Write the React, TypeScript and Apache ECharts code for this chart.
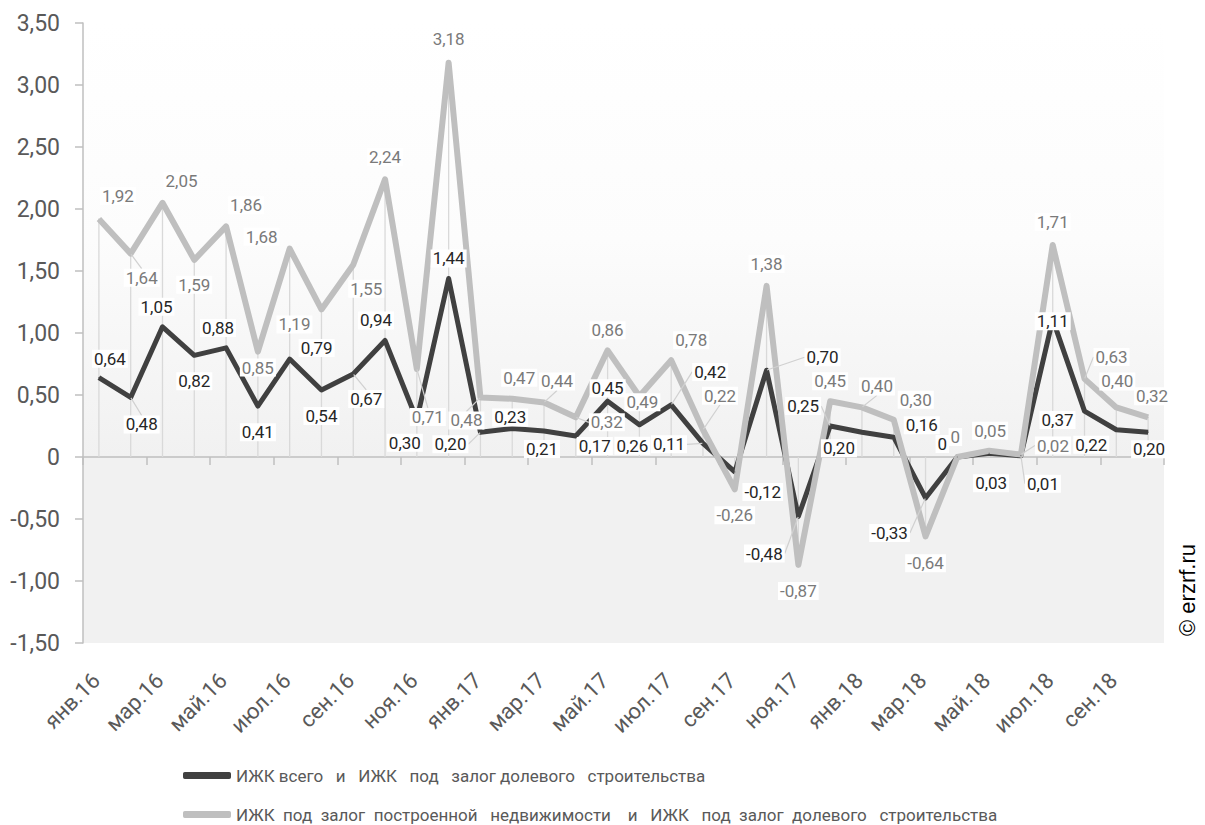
import React, { useEffect, useRef } from "react";
import * as echarts from "echarts";

const months = [
  "янв.16", "фев.16", "мар.16", "апр.16", "май.16", "июн.16", "июл.16", "авг.16", "сен.16", "окт.16", "ноя.16", "дек.16",
  "янв.17", "фев.17", "мар.17", "апр.17", "май.17", "июн.17", "июл.17", "авг.17", "сен.17", "окт.17", "ноя.17", "дек.17",
  "янв.18", "фев.18", "мар.18", "апр.18", "май.18", "июн.18", "июл.18", "авг.18", "сен.18", "окт.18",
];

const darkName = "ИЖК всего   и   ИЖК   под   залог долевого   строительства";
const lightName = "ИЖК  под  залог  построенной   недвижимости    и   ИЖК   под  залог  долевого   строительства";

const darkValues = [
  0.64, 0.48, 1.05, 0.82, 0.88, 0.41, 0.79, 0.54, 0.67, 0.94,
  0.30, 1.44, 0.20, 0.23, 0.21, 0.17, 0.45, 0.26, 0.42, 0.11,
  -0.12, 0.70, -0.48, 0.25, 0.20, 0.16, -0.33, 0, 0.03, 0.01,
  1.11, 0.37, 0.22, 0.20,
];

const lightValues = [
  1.92, 1.64, 2.05, 1.59, 1.86, 0.85, 1.68, 1.19, 1.55, 2.24,
  0.71, 3.18, 0.48, 0.47, 0.44, 0.32, 0.86, 0.49, 0.78, 0.22,
  -0.26, 1.38, -0.87, 0.45, 0.40, 0.30, -0.64, 0, 0.05, 0.02,
  1.71, 0.63, 0.40, 0.32,
];

// label offsets (layout only), [dx, dy] relative to the point
const lightLabelOffsets = [
  [19, -23], [11, 24], [19, -22], [0, 25], [20, -21], [0, 16], [-28, -12], [-27, 15], [13, 24], [0, -22],
  [11, 48], [0, -24], [-14, 23], [7, -21], [13, -21], [31, 5], [0, -20], [3, 6], [20, -20], [17, -34],
  [0, 26], [0, -22], [0, 26], [0, -20], [15, -21], [22, -20], [0, 27], [-2, -20], [1, -20], [32, -9],
  [0, -23], [27, -22], [1, -26], [4, -21],
];
const darkLabelOffsets = [
  [11, -19], [11, 27], [-6, -20], [0, 26], [-8, -20], [0, 26], [27, -11], [0, 26], [13, 25], [-9, -20],
  [-12, 23], [0, -20], [-30, 12], [-2, -11], [-2, 18], [19, 10], [0, -13], [-7, 21], [39, -33], [-34, 1],
  [28, 20], [56, -13], [-34, 37], [-27, -20], [-23, 16], [28, -12], [-36, 35], [-15, -13], [2, 30], [22, 28],
  [0, 2], [-27, 9], [-25, 15], [1, 17],
];
const lightLeaders = [1, 10, 12, 14, 15, 19, 24, 29, 31];
const darkLeaders = [1, 8, 12, 18, 19, 21, 22, 23, 26, 29];

const yTicks = { min: -1.5, max: 3.5, interval: 0.5 };

const fmt = (v: number) => (v === 0 ? "0" : v.toFixed(2).replace(".", ","));

export default function App() {
  const ref = useRef<HTMLDivElement>(null);

  useEffect(() => {
    if (!ref.current) return;
    const chart = echarts.init(ref.current, undefined, { renderer: "svg" });

    const dropData = months.map((_, i) => [
      i,
      Math.max(0, darkValues[i], lightValues[i]),
      Math.min(0, darkValues[i], lightValues[i]),
    ]);

    const mkData = (vals: number[], leaders: number[]) =>
      vals.map((v, i) =>
        leaders.includes(i)
          ? { value: v, labelLine: { show: true } }
          : { value: v }
      );

    const labelCommon = {
      show: true,
      position: "inside",
      fontFamily: "Roboto",
      fontSize: 17,
      backgroundColor: "#ffffff",
      padding: [1, 2, 0, 2],
      formatter: (p: any) => fmt(p.value),
    };

    const legendCommon = {
      orient: "horizontal",
      left: 183,
      padding: 0,
      itemWidth: 48,
      itemHeight: 7,
      itemGap: 6,
      icon: "roundRect",
      textStyle: { fontFamily: "Roboto", fontSize: 17, color: "#595959" },
    };

    chart.setOption({
      animation: false,
      textStyle: { fontFamily: "Roboto" },
      grid: {
        left: 83,
        right: 41,
        top: 23,
        bottom: 182,
        show: true,
        borderWidth: 0,
        backgroundColor: new echarts.graphic.LinearGradient(0, 0, 0, 1, [
          { offset: 0, color: "#ffffff" },
          { offset: 0.35, color: "#fcfcfc" },
          { offset: 0.7, color: "#f1f1f1" },
          { offset: 1, color: "#f1f1f1" },
        ]),
      },
      legend: [
        { ...legendCommon, top: 767, data: [darkName] },
        { ...legendCommon, top: 806, data: [lightName] },
      ],
      xAxis: [
        {
          type: "category",
          data: months,
          boundaryGap: true,
          axisLine: { onZero: true, lineStyle: { color: "#bfbfbf", width: 1.5 } },
          axisTick: { show: true, interval: 1, length: 8, lineStyle: { color: "#bfbfbf", width: 1.5 } },
          axisLabel: { show: false },
          splitLine: { show: false },
        },
        {
          type: "category",
          data: months,
          position: "bottom",
          boundaryGap: true,
          axisLine: { show: false, onZero: false },
          axisTick: { show: false },
          axisLabel: {
            interval: 1,
            rotate: 45,
            margin: 31,
            padding: [0, 4, 0, 0],
            fontFamily: "Roboto",
            fontSize: 22,
            color: "#595959",
          },
        },
      ],
      yAxis: {
        type: "value",
        min: yTicks.min,
        max: yTicks.max,
        interval: yTicks.interval,
        axisLine: { show: true, lineStyle: { color: "#bfbfbf", width: 1.5 } },
        axisTick: { show: true, length: 8, lineStyle: { color: "#bfbfbf", width: 1.5 } },
        splitLine: { show: false },
        axisLabel: {
          margin: 23,
          fontFamily: "Roboto",
          fontSize: 23,
          color: "#595959",
          formatter: (v: number) => fmt(v),
        },
      },
      graphic: [
        {
          type: "text",
          x: 1187,
          y: 590,
          rotation: Math.PI / 2,
          style: {
            text: "© erzrf.ru",
            fontFamily: "Liberation Sans",
            fontSize: 22,
            fill: "#000000",
            textAlign: "center",
            textVerticalAlign: "middle",
          },
        },
      ],
      series: [
        {
          type: "custom",
          xAxisIndex: 0,
          z: 1,
          silent: true,
          data: dropData,
          encode: { x: 0, y: [1, 2] },
          renderItem: (params: any, api: any) => {
            const x = api.value(0);
            const p1 = api.coord([x, api.value(1)]);
            const p2 = api.coord([x, api.value(2)]);
            return {
              type: "line",
              shape: { x1: p1[0], y1: p1[1], x2: p2[0], y2: p2[1] },
              style: { stroke: "#d9d9d9", lineWidth: 1.3 },
            };
          },
        },
        {
          name: darkName,
          type: "line",
          xAxisIndex: 0,
          z: 2,
          data: mkData(darkValues, darkLeaders),
          symbol: "circle",
          symbolSize: 1,
          showSymbol: true,
          lineStyle: { color: "#404040", width: 5, join: "round" },
          itemStyle: { color: "#404040" },
          label: { ...labelCommon, color: "#262626" },
          labelLine: { show: false, lineStyle: { color: "#d0d0d0", width: 1.2 } },
          labelLayout: (p: any) => ({
            dx: darkLabelOffsets[p.dataIndex][0],
            dy: darkLabelOffsets[p.dataIndex][1],
          }),
        },
        {
          name: lightName,
          type: "line",
          xAxisIndex: 0,
          z: 2,
          data: mkData(lightValues, lightLeaders),
          symbol: "circle",
          symbolSize: 1,
          showSymbol: true,
          lineStyle: { color: "#bfbfbf", width: 6, join: "round" },
          itemStyle: { color: "#bfbfbf" },
          label: { ...labelCommon, color: "#7a7a7a" },
          labelLine: { show: false, lineStyle: { color: "#d0d0d0", width: 1.2 } },
          labelLayout: (p: any) => ({
            dx: lightLabelOffsets[p.dataIndex][0],
            dy: lightLabelOffsets[p.dataIndex][1],
          }),
        },
      ],
    });

    return () => chart.dispose();
  }, []);

  return (
    <div
      ref={ref}
      style={{ position: "fixed", left: 0, top: 0, width: 1205, height: 825, background: "#ffffff" }}
    />
  );
}
